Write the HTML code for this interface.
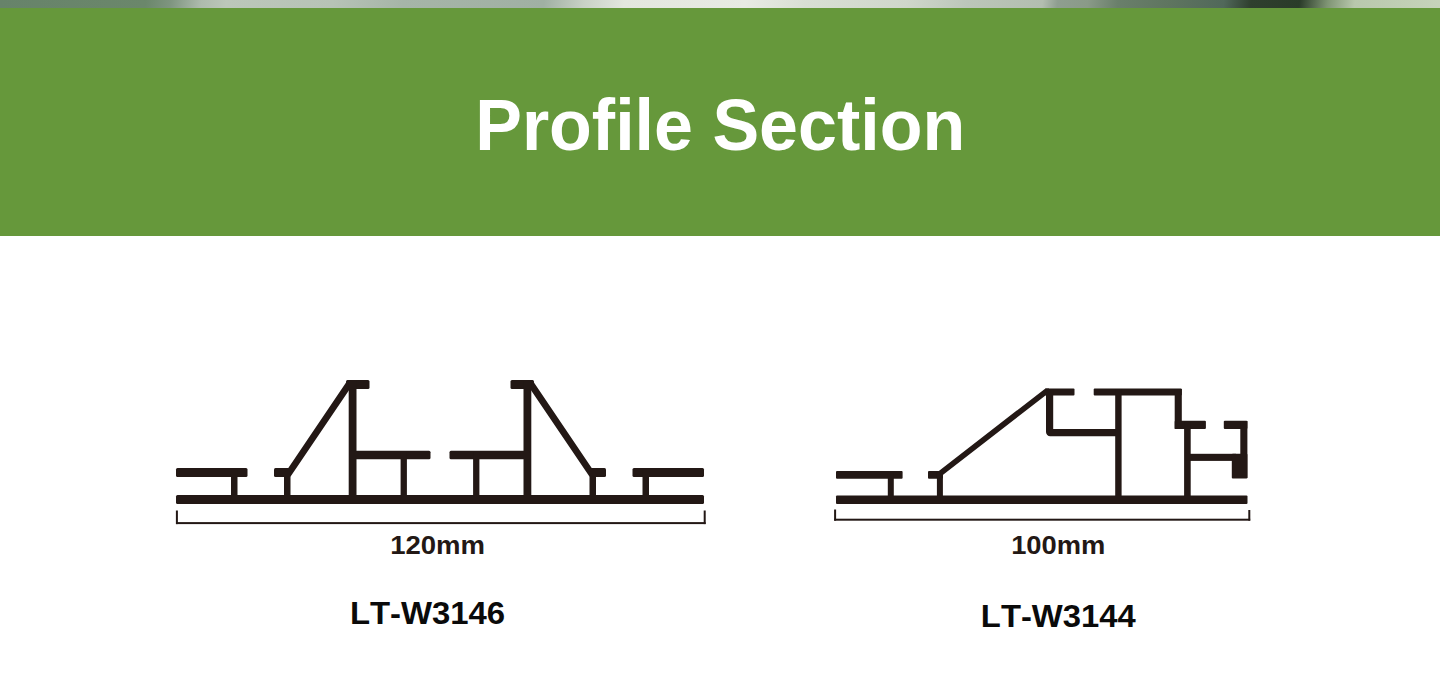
<!DOCTYPE html>
<html lang="en">
<head>
<meta charset="utf-8">
<title>Profile Section</title>
<style>
  html,body{margin:0;padding:0;background:#fff;}
  body{width:1440px;height:678px;position:relative;overflow:hidden;font-family:"Liberation Sans",Arial,sans-serif;}
  .strip{position:absolute;left:0;top:0;width:1440px;height:8px;
    background:linear-gradient(97deg,#67836a 0px,#6b876b 145px,#7f9580 170px,#aebbad 200px,#bcc7ba 225px,#b7c3b6 330px,#a6b5a8 400px,#a0b0a3 540px,#c9d1c6 580px,#e3e7de 620px,#e8ebe3 740px,#d9dfd4 800px,#cfd7cb 900px,#bcc6ba 960px,#b3beb0 1035px,#8f9e90 1050px,#8a9a88 1080px,#6a7f6b 1110px,#5f7560 1160px,#51685a 1215px,#2f3f2e 1242px,#2a3b29 1290px,#7f9474 1318px,#b9c8ad 1345px,#c8d5bc 1440px);}
  .band{position:absolute;left:0;top:8px;width:1440px;height:228px;background:#66983b;}
  h1{position:absolute;left:0;top:84px;width:1440px;margin:0;text-align:center;color:#fff;font-weight:bold;font-size:69px;line-height:80px;letter-spacing:0;}
  svg{position:absolute;left:0;top:0;}
  .t{font-family:"Liberation Sans",Arial,sans-serif;font-weight:bold;fill:#231815;}
</style>
</head>
<body>
<div class="strip"></div>
<div class="band"></div>
<svg width="1440" height="678" viewBox="0 0 1440 678">
  <g fill="#231815" stroke="none">
    <!-- LEFT PROFILE LT-W3146 -->
    <rect x="176" y="495" width="528" height="9" rx="1.5"/>
    <rect x="176" y="468" width="71.5" height="9" rx="1.5"/>
    <rect x="231" y="470" width="6.5" height="27"/>
    <rect x="274" y="468" width="16" height="9" rx="1.5"/>
    <rect x="284" y="470" width="6.5" height="27"/>
    <polygon points="284,473.5 287.8,468.7 347.4,380.4 355.6,380.4 290.6,476.5 284,476.5"/>
    <rect x="346" y="380" width="23.5" height="9" rx="1.5"/>
    <rect x="348.7" y="381" width="7.8" height="116"/>
    <rect x="350" y="450.7" width="80.5" height="8.5" rx="1.5"/>
    <rect x="400.6" y="452" width="6.3" height="45"/>
    <!-- mirror -->
    <rect x="632.5" y="468" width="71.5" height="9" rx="1.5"/>
    <rect x="642.5" y="470" width="6.5" height="27"/>
    <rect x="590" y="468" width="16" height="9" rx="1.5"/>
    <rect x="589.5" y="470" width="6.5" height="27"/>
    <polygon points="596,473.5 592.2,468.7 532.6,380.4 524.4,380.4 589.4,476.5 596,476.5"/>
    <rect x="510.5" y="380" width="23.5" height="9" rx="1.5"/>
    <rect x="523.5" y="381" width="7.8" height="116"/>
    <rect x="449.5" y="450.7" width="80.5" height="8.5" rx="1.5"/>
    <rect x="473.1" y="452" width="6.3" height="45"/>
    <!-- dimension -->
    <rect x="175.9" y="510.5" width="2" height="13.6"/>
    <rect x="703.7" y="510.5" width="2" height="13.6"/>
    <rect x="176" y="522.1" width="529.6" height="2"/>

    <!-- RIGHT PROFILE LT-W3144 -->
    <rect x="836" y="495.5" width="411.5" height="8.5" rx="1"/>
    <rect x="836" y="471" width="66.6" height="7.7" rx="1"/>
    <rect x="887.8" y="473" width="6" height="24"/>
    <rect x="928" y="471" width="14.8" height="7.7" rx="1"/>
    <rect x="936.9" y="473" width="6" height="24"/>
    <polygon points="936.9,472.4 1045.4,388.4 1049,388.4 1049,392.7 942.8,474.9 942.8,478 936.9,478"/>
    <rect x="1045" y="388.4" width="29.5" height="7.2" rx="1"/>
    <path d="M1046,389 h7.2 v40 h64 v7.2 h-67 a4.2,4.2 0 0 1 -4.2,-4.2 z"/>
    <rect x="1093.7" y="388.4" width="88.1" height="7.2" rx="1"/>
    <rect x="1115.2" y="389" width="6.4" height="108"/>
    <rect x="1174.7" y="389" width="7.1" height="40"/>
    <rect x="1174.7" y="420.8" width="31.2" height="8.2" rx="1"/>
    <rect x="1184.1" y="422" width="6.6" height="75"/>
    <rect x="1186" y="453.8" width="50" height="7.1"/>
    <rect x="1223.8" y="420.8" width="23.6" height="8.2" rx="1"/>
    <rect x="1240.3" y="421" width="7.1" height="57"/>
    <rect x="1231.8" y="453.8" width="15.6" height="24.8" rx="1"/>
    <!-- dimension -->
    <rect x="834.1" y="509.5" width="2" height="11.2"/>
    <rect x="1248.3" y="510" width="2" height="10.7"/>
    <rect x="834.2" y="518.7" width="416" height="2"/>
  </g>
  <!--TEXTS-->
  <text id="th" transform="translate(475.21,149.68) scale(0.9815,1.015)" font-family="'Liberation Sans',Arial,sans-serif" font-weight="bold" style="font-kerning:none" font-size="71.31" fill="#ffffff">Profile Section</text>
  <text id="ta" transform="translate(390.16,553.66) scale(1.0738,1)" font-family="'Liberation Sans',Arial,sans-serif" font-weight="bold" style="font-kerning:none" font-size="25.64" fill="#231815">120mm</text>
  <text id="tb" transform="translate(1011.16,553.66) scale(1.0666,1)" font-family="'Liberation Sans',Arial,sans-serif" font-weight="bold" style="font-kerning:none" font-size="25.65" fill="#231815">100mm</text>
  <text id="tc" transform="translate(349.90,624.26) scale(1.0563,1)" font-family="'Liberation Sans',Arial,sans-serif" font-weight="bold" style="font-kerning:none" font-size="31.13" fill="#0a0a0a">LT-W3146</text>
  <text id="td" transform="translate(980.87,626.81) scale(1.0652,1)" font-family="'Liberation Sans',Arial,sans-serif" font-weight="bold" style="font-kerning:none" font-size="30.79" fill="#0a0a0a">LT-W3144</text>
</svg>
</body>
</html>
